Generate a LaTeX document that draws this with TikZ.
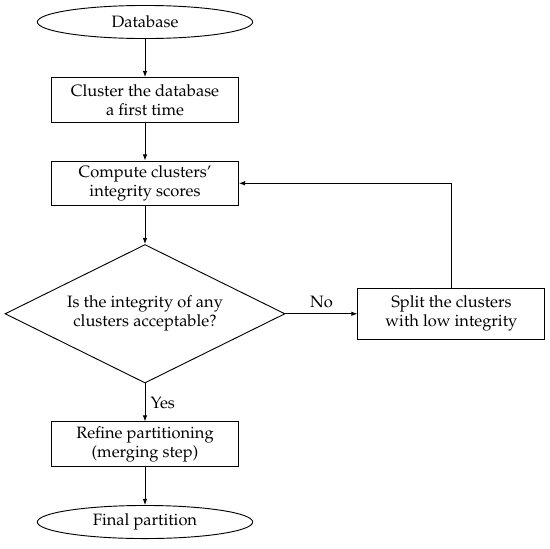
\documentclass[tikz,border=0pt]{standalone}
\usepackage[T1]{fontenc}
\usepackage{mathpazo}
\usetikzlibrary{arrows.meta,positioning,shapes.geometric}

\begin{document}
\begin{tikzpicture}[
  font=\fontsize{10.7pt}{12.4pt}\selectfont,
  >={Latex[length=4pt,width=3pt]},
  node distance=24.7pt and 46.8pt,
  terminal/.style={draw, ellipse, line width=.6pt, inner sep=0pt,
    minimum width=140pt, minimum height=21.5pt},
  process/.style={draw, rectangle, line width=.6pt, align=center,
    minimum width=121.5pt, minimum height=29pt, inner sep=1pt},
  decision/.style={draw, diamond, aspect=2, line width=.6pt, align=center,
    minimum width=182pt, minimum height=90pt, inner sep=0pt},
  flow/.style={->, line width=.6pt}
]

\useasboundingbox (-94.25pt,14.3pt) rectangle (263.25pt,-341.9pt);

\node[terminal] (db) {Database};
\node[process, below=of db] (first) {Cluster the database\\a first time};
\node[process, below=of first] (score) {Compute clusters'\\integrity scores};
\node[decision, below=of score] (check) {Is the integrity of any\\clusters acceptable?};
\node[process, right=of check, minimum height=33pt] (split) {Split the clusters\\with low integrity};
\node[process, below=of check] (refine) {Refine partitioning\\(merging step)};
\node[terminal, below=of refine] (final) {Final partition};

\draw[flow] (db) -- (first);
\draw[flow] (first) -- (score);
\draw[flow] (score) -- (check);
\draw[flow] (check) -- node[above]{No} (split);
\draw[flow] (split.north) |- (score.east);
\draw[flow] (check) -- node[right]{Yes} (refine);
\draw[flow] (refine) -- (final);

\end{tikzpicture}
\end{document}
